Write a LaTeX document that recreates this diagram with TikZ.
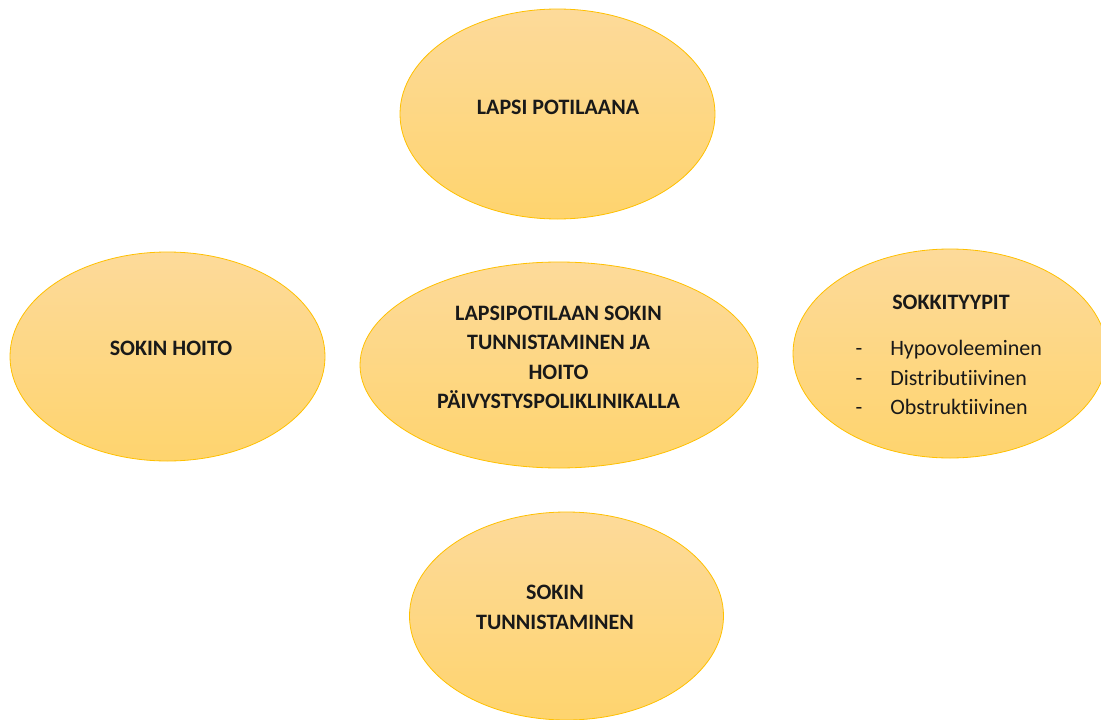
\documentclass[tikz,border=0pt]{standalone}
\usepackage{fontspec}
\setmainfont{Carlito}[Ligatures=NoCommon]
\usetikzlibrary{shapes,positioning}
\definecolor{goldline}{HTML}{FFC000}
\definecolor{blobtop}{HTML}{FDDA9A}
\definecolor{blobbot}{HTML}{FED46E}
\tikzset{blob/.style={ellipse, draw=goldline, line width=0.8pt,
    top color=blobtop, bottom color=blobbot, inner sep=0pt},
  lbl/.style={font=\bfseries\fontsize{22}{29.5}\selectfont, align=center, text=black!90},
  item/.style={font=\fontsize{22}{29.5}\selectfont, align=left, text=black!90}}

\begin{document}
\begin{tikzpicture}[x=1pt,y=-1pt]
    \useasboundingbox (0,0) rectangle (1101,720);

    \node (potilas) [blob, minimum width=315, minimum height=210] at (557.5,114) {};
    \node (hoito)   [blob, minimum width=315, minimum height=209] at (167.5,356.5) {};
    \node (keski)   [blob, minimum width=398, minimum height=206] at (559,365) {};
    \node (tyypit)  [blob, minimum width=314, minimum height=209] at (950,353.5) {};
    \node (tunnist) [blob, minimum width=314, minimum height=208] at (566.5,616) {};

    \node (potilas-t) [lbl] at (558,107) {LAPSI POTILAANA};
    \node (hoito-t)   [lbl] at (171,348) {SOKIN HOITO};
    \node (keski-t)   [lbl] at (558.5,357.5) {LAPSIPOTILAAN SOKIN\\TUNNISTAMINEN JA\\HOITO\\PÄIVYSTYSPOLIKLINIKALLA};
    \node (tunnist-t) [lbl] at (555,607.5) {SOKIN\\TUNNISTAMINEN};
    \node (tyypit-t)  [lbl] at (951,302) {SOKKITYYPIT};
    \node (lista) [item, anchor=west] at (852,379.5)
      {\begin{tabular}{@{}l@{\hspace{28pt}}l@{}}
        - & Hypovoleeminen\\
        - & Distributiivinen\\
        - & Obstruktiivinen
      \end{tabular}};
  \end{tikzpicture}
\end{document}
